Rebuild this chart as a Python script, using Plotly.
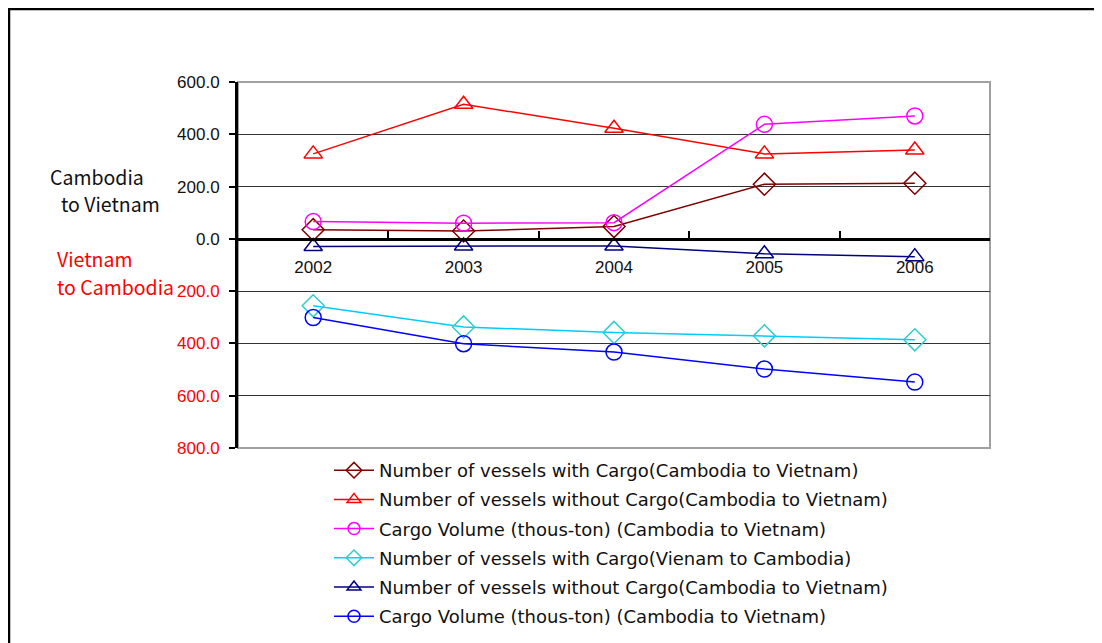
import plotly.graph_objects as go

years = ["2002", "2003", "2004", "2005", "2006"]

vessels_cargo_c2v = [35, 30, 47, 209, 213]
vessels_nocargo_c2v = [325, 515, 423, 325, 340]
cargo_volume_c2v = [66, 60, 62, 438, 470]
vessels_cargo_v2c = [-256, -337, -358, -371, -386]
vessels_nocargo_v2c = [-29, -27, -27, -57, -68]
cargo_volume_v2c = [-301, -401, -433, -498, -548]

names = [
    "Number of vessels with Cargo(Cambodia to Vietnam)",
    "Number of vessels without Cargo(Cambodia to Vietnam)",
    "Cargo Volume (thous-ton) (Cambodia to Vietnam)",
    "Number of vessels with Cargo(Vienam to Cambodia)",
    "Number of vessels without Cargo(Cambodia to Vietnam)",
    "Cargo Volume (thous-ton) (Cambodia to Vietnam)",
]

y_tick_vals = [600, 400, 200, 0, -200, -400, -600, -800]
y_tick_text = ["600.0", "400.0", "200.0", "0.0",
               '<span style="color:#FF0000">200.0</span>',
               '<span style="color:#FF0000">400.0</span>',
               '<span style="color:#FF0000">600.0</span>',
               '<span style="color:#FF0000">800.0</span>']
y_range = [-800, 600]

series = [
    (vessels_cargo_c2v, "#800000", "#800000", "diamond-open", 17),
    (vessels_nocargo_c2v, "#FF0000", "#FF0000", "triangle-up-open", 16),
    (cargo_volume_c2v, "#FF00FF", "#FF00FF", "circle-open", 16),
    (vessels_cargo_v2c, "#00CCFF", "#33CCCC", "diamond-open", 17),
    (vessels_nocargo_v2c, "#000080", "#000080", "triangle-up-open", 16),
    (cargo_volume_v2c, "#0000FF", "#0000FF", "circle-open", 16),
]

fig = go.Figure()
for i, ((vals, lc, mc, sym, sz), nm) in enumerate(zip(series, names)):
    fig.add_trace(go.Scatter(
        x=years, y=vals, name=nm, mode="lines+markers", legendgroup=f"g{i}",
        showlegend=False,
        line=dict(color=lc, width=1.5),
        marker=dict(symbol=sym, size=sz, color=mc, line=dict(color=mc, width=1.5)),
    ))
# legend entries with smaller symbols, as in the original legend
for i, ((vals, lc, mc, sym, sz), nm) in enumerate(zip(series, names)):
    fig.add_trace(go.Scatter(
        x=[None], y=[None], name=nm, mode="lines+markers", legendgroup=f"g{i}",
        showlegend=True,
        line=dict(color=lc, width=1.5),
        marker=dict(symbol=sym, size=12, color=mc, line=dict(color=mc, width=1.5)),
    ))

OFF = 8  # page body margin
W, H = 1102 - OFF, 643 - OFF
# plot area in reference page coordinates
L0, R0, T0, B0 = 238, 990, 82, 448
L, R, T, B = L0 - OFF, R0 - OFF, T0 - OFF, B0 - OFF
zero_pos = (0 - y_range[0]) / (y_range[1] - y_range[0])


def px_x(x):
    return (x - L0) / (R0 - L0)


def px_y(y):
    return (B0 - y) / (B0 - T0)


fig.update_layout(
    width=W, height=H,
    margin=dict(l=L, r=W - R, t=T, b=H - B, pad=0, autoexpand=False),
    paper_bgcolor="white", plot_bgcolor="white",
    showlegend=True,
    legend=dict(
        x=px_x(329), y=px_y(452), xanchor="left", yanchor="top",
        font=dict(family="DejaVu Sans", size=18, color="#111111"),
        bgcolor="rgba(0,0,0,0)", itemwidth=40, tracegroupgap=2.8,
    ),
    xaxis=dict(
        type="category", range=[-0.5, 4.5], anchor="free", position=zero_pos,
        showline=True, linecolor="black", linewidth=3,
        ticks="inside", tickson="boundaries", ticklen=7, tickwidth=2, tickcolor="black",
        showgrid=False, zeroline=False,
        tickfont=dict(family="Liberation Sans, Arial", size=17, color="#111111"),
        ticklabelstandoff=12,
    ),
    yaxis=dict(
        range=y_range, tickvals=y_tick_vals, ticktext=y_tick_text,
        showline=True, linecolor="black", linewidth=3,
        ticks="outside", ticklen=6, tickwidth=2, tickcolor="black",
        showgrid=True, gridcolor="#333333", gridwidth=1, zeroline=False,
        tickfont=dict(family="Liberation Sans, Arial", size=17, color="#111111"),
        ticklabelstandoff=6,
    ),
    shapes=[
        dict(type="rect", xref="paper", yref="paper", x0=0, x1=1, y0=0, y1=1,
             line=dict(color="#A0A0A0", width=2), layer="below"),
        dict(type="rect", xref="paper", yref="paper",
             x0=px_x(9), x1=px_x(1102 + 20),
             y0=px_y(643 + 20), y1=px_y(9),
             line=dict(color="black", width=2.5), layer="below"),
    ],
)

labels = [
    ("Cambodia", 48, 176, "#111111"),
    ("to Vietnam", 59, 203, "#111111"),
    ("Vietnam", 55, 258, "#FF0000"),
    ("to Cambodia", 55, 286, "#FF0000"),
]
for txt, x, y, c in labels:
    fig.add_annotation(text=txt, xref="paper", yref="paper", x=px_x(x), y=px_y(y),
                       xanchor="left", yanchor="middle", showarrow=False,
                       font=dict(family="Noto Sans CJK JP", size=19.5, color=c))

fig.write_html("out.html")
